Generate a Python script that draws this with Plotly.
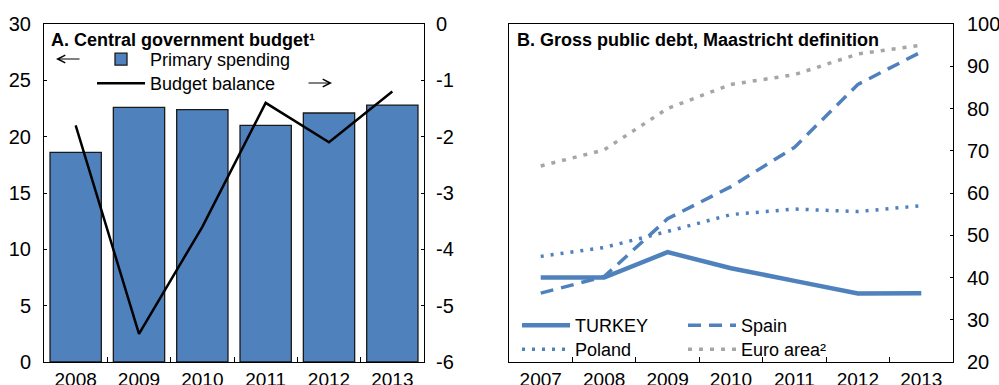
import plotly.graph_objects as go

# Panel A: central government budget
years_a = ["2008", "2009", "2010", "2011", "2012", "2013"]
primary_spending = [18.6, 22.6, 22.4, 21.0, 22.1, 22.8]
budget_balance = [-1.8, -5.5, -3.6, -1.4, -2.1, -1.2]
spending_ticks = [0, 5, 10, 15, 20, 25, 30]
balance_ticks = [-6, -5, -4, -3, -2, -1, 0]

# Panel B: gross public debt, Maastricht definition
years_b = ["2007", "2008", "2009", "2010", "2011", "2012", "2013"]
turkey = [40.0, 40.0, 46.0, 42.2, 39.2, 36.2, 36.3]
spain = [36.3, 40.2, 53.9, 61.5, 70.8, 85.7, 93.4]
poland = [45.0, 47.1, 50.9, 54.9, 56.2, 55.6, 57.0]
euro_area = [66.4, 70.2, 80.0, 85.7, 88.0, 92.9, 95.0]
debt_ticks = [20, 30, 40, 50, 60, 70, 80, 90, 100]

BLUE = "#4F81BD"
GREY = "#A6A6A6"
FONT = "Liberation Sans, Arial, sans-serif"

W, H = 999, 385
fig = go.Figure()

fig.add_trace(go.Bar(
    x=years_a, y=primary_spending, name="Primary spending",
    marker=dict(color=BLUE, line=dict(color="#1a1a1a", width=1.3)),
    xaxis="x", yaxis="y", legend="legend",
))
fig.add_trace(go.Scatter(
    x=years_a, y=budget_balance, name="Budget balance", mode="lines",
    line=dict(color="black", width=2.5),
    xaxis="x", yaxis="y2", legend="legend2",
))

fig.add_trace(go.Scatter(
    x=years_b, y=turkey, name="TURKEY", mode="lines",
    line=dict(color=BLUE, width=4.5),
    xaxis="x3", yaxis="y3", legend="legend3",
))
fig.add_trace(go.Scatter(
    x=years_b, y=spain, name="Spain", mode="lines",
    line=dict(color=BLUE, width=3.5, dash="13px,8px"),
    xaxis="x3", yaxis="y3", legend="legend4",
))
fig.add_trace(go.Scatter(
    x=years_b, y=poland, name="Poland", mode="lines",
    line=dict(color=BLUE, width=3.5, dash="3px,7px"),
    xaxis="x3", yaxis="y3", legend="legend5",
))
fig.add_trace(go.Scatter(
    x=years_b, y=euro_area, name="Euro area²", mode="lines",
    line=dict(color=GREY, width=3.5, dash="4px,7px"),
    xaxis="x3", yaxis="y3", legend="legend6",
))

y_dom = [(H - 362) / H, (H - 24) / H]
axis_common = dict(showgrid=False, zeroline=False, showline=True,
                   linecolor="black", linewidth=1, tickcolor="black",
                   fixedrange=True)
y_font = dict(family=FONT, size=20, color="black")
x_font = dict(family=FONT, size=19, color="black")


def labels(vals):
    # plain hyphen for negatives
    return [str(v) for v in vals]


def legend_at(left_px, top_px):
    return dict(x=left_px / W, y=(H - top_px) / H,
                font=dict(family=FONT, size=18, color="black"),
                bgcolor="rgba(0,0,0,0)", borderwidth=0,
                orientation="v", xanchor="left", yanchor="top",
                itemwidth=48)


fig.update_layout(
    width=W, height=H,
    margin=dict(l=0, r=0, t=0, b=0, autoexpand=False),
    paper_bgcolor="white", plot_bgcolor="white",
    bargap=0.19,
    showlegend=True,
    xaxis=dict(domain=[44 / W, 424 / W], type="category", range=[-0.5, 5.5],
               tickson="boundaries", ticks="inside", ticklen=5, mirror=True,
               ticklabelstandoff=0, tickfont=x_font, anchor="y",
               **axis_common),
    yaxis=dict(domain=y_dom, range=[0, 30], tickvals=spending_ticks,
               ticktext=labels(spending_ticks), ticks="inside", ticklen=3,
               ticklabelstandoff=8, tickfont=y_font, anchor="x",
               **axis_common),
    yaxis2=dict(range=[-6, 0], tickvals=balance_ticks,
                ticktext=labels(balance_ticks), overlaying="y", side="right",
                ticks="inside", ticklen=3, ticklabelstandoff=7,
                tickfont=y_font, anchor="x", **axis_common),
    xaxis3=dict(domain=[509 / W, 953 / W], type="category", range=[-0.5, 6.5],
                tickson="boundaries", ticks="inside", ticklen=5, mirror=True,
                ticklabelstandoff=0, tickfont=x_font, anchor="y3",
                **axis_common),
    yaxis3=dict(domain=y_dom, range=[20, 100], tickvals=debt_ticks,
                ticktext=labels(debt_ticks), side="right",
                ticks="inside", ticklen=3, mirror=True, ticklabelstandoff=9,
                tickfont=y_font, anchor="x3", **axis_common),
    legend=legend_at(92, 41),
    legend2=legend_at(92, 65),
    legend3=legend_at(517, 307),
    legend4=legend_at(683, 307),
    legend5=legend_at(517, 331),
    legend6=legend_at(683, 331),
)

annotations = [
    dict(text="<b>A. Central government budget¹</b>", x=49 / W, y=(H - 40) / H,
         xref="paper", yref="paper", xanchor="left", yanchor="middle",
         showarrow=False, font=dict(family=FONT, size=18, color="black")),
    dict(text="<b>B. Gross public debt, Maastricht definition</b>",
         x=515 / W, y=(H - 40) / H, xref="paper", yref="paper",
         xanchor="left", yanchor="middle", showarrow=False,
         font=dict(family=FONT, size=18, color="black")),
    # axis pointers: spending on the left scale, balance on the right scale
    dict(text="", x=56 / W, y=(H - 59) / H, xref="paper", yref="paper",
         ax=25, ay=0, showarrow=True, arrowhead=5, arrowsize=1.5,
         arrowwidth=1, arrowcolor="black"),
    dict(text="", x=332 / W, y=(H - 83) / H, xref="paper", yref="paper",
         ax=-25, ay=0, showarrow=True, arrowhead=5, arrowsize=1.5,
         arrowwidth=1, arrowcolor="black"),
]
fig.update_layout(annotations=annotations)

fig.write_html("out.html")
